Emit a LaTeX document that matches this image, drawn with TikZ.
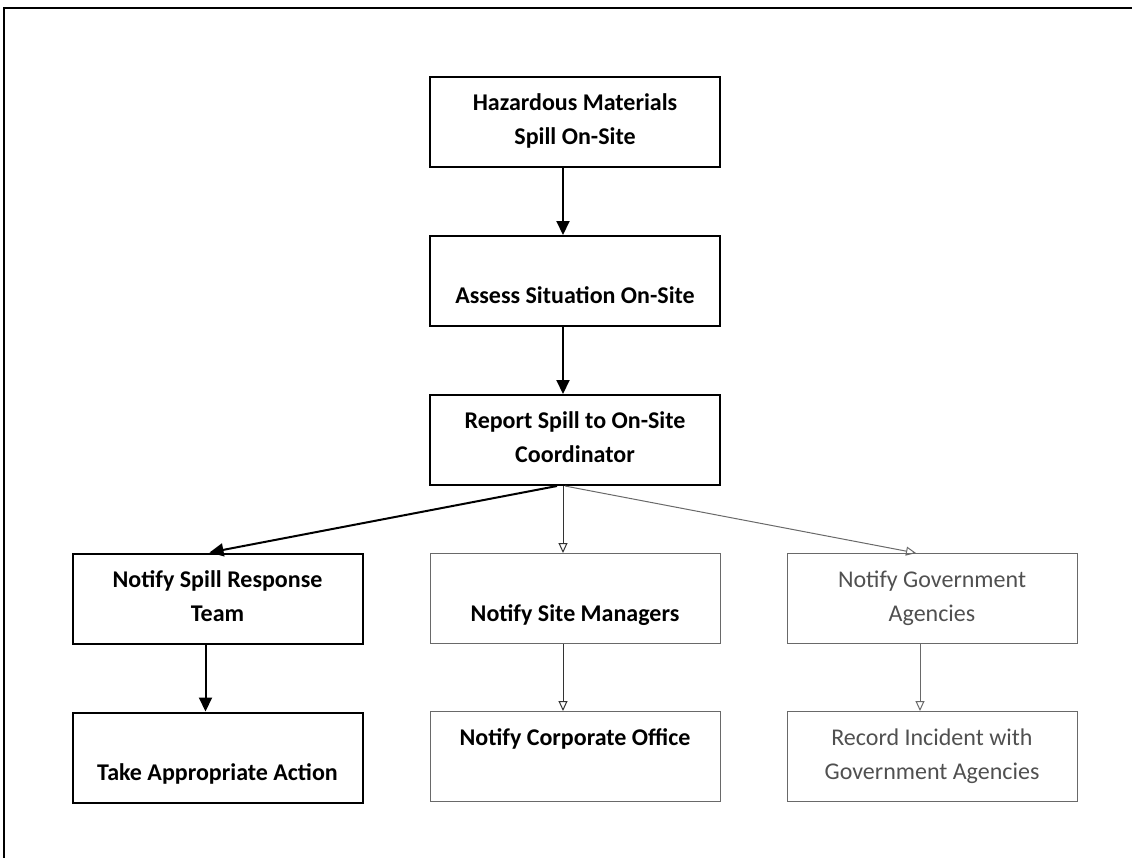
\documentclass[tikz,border=0pt]{standalone}
\usepackage{fontspec}
\setmainfont{Carlito}
\usetikzlibrary{arrows.meta,positioning}
\definecolor{spillgray}{RGB}{105,105,105}
\definecolor{spilltext}{RGB}{80,80,80}

\begin{document}
\begin{tikzpicture}[x=0.5pt,y=-0.5pt,
    stepbox/.style={draw,line width=1pt,minimum width=145pt,minimum height=45pt,inner sep=0pt,
      align=center,text height=25pt,text depth=2.5pt,font=\fontsize{12}{17}\selectfont\bfseries},
    faintbox/.style={stepbox,draw=spillgray,line width=0.5pt},
    govbox/.style={faintbox,text=spilltext,font=\fontsize{12}{17}\selectfont},
    mainarrow/.style={-{Triangle[length=7pt,width=6.5pt]},line width=1pt},
    faintarrow/.style={-{Triangle[open,length=5pt,width=4.5pt]},draw=spillgray,line width=0.5pt}]
  \useasboundingbox (0,0) rectangle (1132,858);
  % scanned page frame
  \draw[line width=1pt] (4,858) -- (4,8) -- (1132,8);
  % main column
  \node[stepbox] (spill) at (575,122) {Hazardous Materials\\Spill On-Site};
  \node[stepbox,below=33.5pt of spill] (assess) {\mbox{}\\[2.5pt]Assess Situation On-Site};
  \node[stepbox,below=33.5pt of assess] (report) {Report Spill to On-Site\\Coordinator};
  % second row
  \node[faintbox,below=33.5pt of report] (managers) {\mbox{}\\[2.5pt]Notify Site Managers};
  \node[stepbox,left=33pt of managers] (team) {Notify Spill Response\\Team};
  \node[govbox,right=33pt of managers] (agencies) {Notify Government\\Agencies};
  % third row
  \node[stepbox,below=33.5pt of team] (action) {\mbox{}\\[2.5pt]Take Appropriate Action};
  \node[faintbox,below=33.5pt of managers] (corporate) {Notify Corporate Office\\\mbox{}};
  \node[govbox,below=33.5pt of agencies] (record) {Record Incident with\\Government Agencies};
  % connectors
  \draw[mainarrow] ([xshift=-6pt]spill.south) -- ([xshift=-6pt]assess.north);
  \draw[mainarrow] ([xshift=-6pt]assess.south) -- ([xshift=-6pt]report.north);
  \draw[mainarrow] ([xshift=-9pt]report.south) -- ([xshift=-4pt]team.north);
  \draw[faintarrow,draw=black!80] ([xshift=-6pt]report.south) -- ([xshift=-6pt]managers.north);
  \draw[faintarrow] ([xshift=-5pt]report.south) -- ([xshift=-8pt]agencies.north);
  \draw[mainarrow] ([xshift=-6pt]team.south) -- ([xshift=-6pt]action.north);
  \draw[faintarrow,draw=black!80] ([xshift=-6pt]managers.south) -- ([xshift=-6pt]corporate.north);
  \draw[faintarrow] ([xshift=-6pt]agencies.south) -- ([xshift=-6pt]record.north);
\end{tikzpicture}
\end{document}
